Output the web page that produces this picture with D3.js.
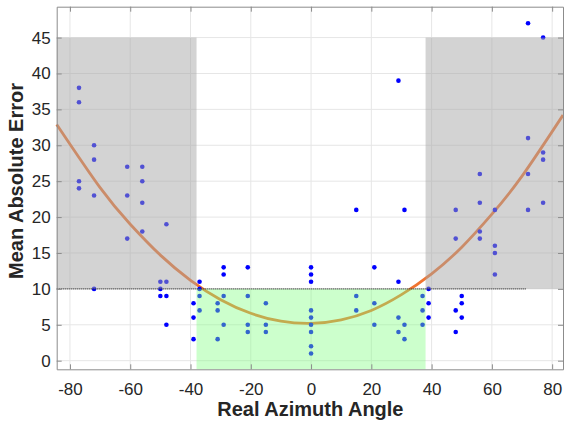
<!DOCTYPE html>
<html>
<head>
<meta charset="utf-8">
<script src="https://cdn.jsdelivr.net/npm/d3@7"></script>
<style>
  html, body { margin: 0; padding: 0; background: #fff; }
  svg { display: block; font-family: Arial, "Liberation Sans", sans-serif; }
</style>
</head>
<body>
<div id="chart"></div>
<script>
// ---------- data ----------
const angles = [-77, -72, -61, -56, -50, -48, -39, -37, -31, -29, -21, -15, 0, 15, 21, 29, 31, 37, 39, 48, 50, 56, 61, 72, 77];
const errorsByAngle = [
  [38, 36, 25, 24],
  [30, 28, 23, 10],
  [27, 23, 17],
  [27, 25, 22, 18],
  [11, 10, 9],
  [19, 11, 9, 5],
  [8, 6, 3],
  [11, 10, 9, 7],
  [8, 7, 3],
  [13, 12, 9, 5],
  [13, 9, 5, 4],
  [8, 5, 4],
  [13, 12, 11, 7, 6, 5, 4, 2, 1],
  [21, 9, 7],
  [13, 8, 5],
  [39, 11, 6, 4],
  [21, 5, 3],
  [9, 7, 5],
  [10, 8, 6],
  [21, 17, 7, 4],
  [9, 8, 6],
  [26, 22, 18, 17],
  [21, 16, 15, 12],
  [47, 31, 26, 21],
  [45, 29, 28, 22]
];

// fitted curve
const fitX = [-84.4, -70, -60, -50, -40, -30, -20, -10, 0, 10, 20, 30, 40, 50, 60, 70, 83.6];
const fitY = [32.9, 24.1, 19.0, 14.7, 11.2, 8.5, 6.6, 5.5, 5.2, 5.7, 7.0, 9.2, 12.1, 15.8, 20.4, 25.7, 34.2];

const xTicks = [-80, -60, -40, -20, 0, 20, 40, 60, 80];
const yTicks = [0, 5, 10, 15, 20, 25, 30, 35, 40, 45];

const threshold = 10;     // dotted line / region split
const bandLimit = 38;     // green zone half-width
const grayTop = 45;
const dottedEnd = 71.5;

// ---------- layout ----------
const width = 564, height = 421;
const plot = { left: 56.7, right: 563, top: 6.7, bottom: 369.3 };

const svg = d3.select("#chart").append("svg")
  .attr("width", width)
  .attr("height", height);

const x = d3.scaleLinear().domain([-84.4, 83.6]).range([plot.left, plot.right]);
const y = d3.scaleLinear().domain([-1.2, 49.3]).range([plot.bottom, plot.top]);

// grid
const grid = svg.append("g").attr("stroke", "#e6e6e6").attr("stroke-width", 1);
grid.selectAll(".gx").data(xTicks).join("line")
  .attr("x1", d => x(d)).attr("x2", d => x(d))
  .attr("y1", plot.top).attr("y2", plot.bottom);
grid.selectAll(".gy").data(yTicks).join("line")
  .attr("x1", plot.left).attr("x2", plot.right)
  .attr("y1", d => y(d)).attr("y2", d => y(d));

// fitted curve
const fitPts = fitX.map((v, i) => [v, fitY[i]]);
svg.append("path")
  .datum(fitPts)
  .attr("fill", "none")
  .attr("stroke", "#f07430")
  .attr("stroke-width", 2.8)
  .attr("d", d3.line().x(d => x(d[0])).y(d => y(d[1])).curve(d3.curveNatural));

// points
const points = [];
angles.forEach((a, i) => errorsByAngle[i].forEach(e => points.push({ a, e })));
svg.append("g").selectAll("circle").data(points).join("circle")
  .attr("cx", d => x(d.a))
  .attr("cy", d => y(d.e))
  .attr("r", 2.3)
  .attr("fill", "#0000ff");

// shaded regions (drawn over the marks, semi-transparent)
const [x0, x1] = x.domain();
const [y0] = y.domain();
svg.append("rect")
  .attr("x", x(x0)).attr("width", x(-bandLimit) - x(x0))
  .attr("y", y(grayTop)).attr("height", y(threshold) - y(grayTop))
  .attr("fill", "#a5a5a5").attr("fill-opacity", 0.49);
svg.append("rect")
  .attr("x", x(bandLimit)).attr("width", x(x1) - x(bandLimit))
  .attr("y", y(grayTop)).attr("height", y(threshold) - y(grayTop))
  .attr("fill", "#a5a5a5").attr("fill-opacity", 0.49);
svg.append("rect")
  .attr("x", x(-bandLimit)).attr("width", x(bandLimit) - x(-bandLimit))
  .attr("y", y(threshold)).attr("height", y(y0) - y(threshold))
  .attr("fill", "#80ff80").attr("fill-opacity", 0.4);

// dotted threshold line
svg.append("line")
  .attr("x1", x(x0)).attr("x2", x(dottedEnd))
  .attr("y1", y(threshold)).attr("y2", y(threshold))
  .attr("stroke", "#333")
  .attr("stroke-width", 1.3)
  .attr("stroke-dasharray", "1,1");

// ---------- axes ----------
const axisColor = "#8c8c8c";
const styleAxis = g => {
  g.select(".domain").attr("stroke", axisColor);
  g.selectAll(".tick line").attr("stroke", axisColor);
  g.selectAll(".tick text")
    .attr("fill", "#262626")
    .style("font-size", "17px")
    .style("font-family", "Arial, 'Liberation Sans', sans-serif");
};

svg.append("g")
  .attr("transform", `translate(0,${plot.bottom})`)
  .call(d3.axisBottom(x).tickValues(xTicks).tickSize(-5).tickPadding(13.5).tickSizeOuter(0)
    .tickFormat(d => String(d)))
  .call(styleAxis);

svg.append("g")
  .attr("transform", `translate(0,${plot.top})`)
  .call(d3.axisTop(x).tickValues(xTicks).tickSize(-5).tickSizeOuter(0).tickFormat(""))
  .call(styleAxis);

svg.append("g")
  .attr("transform", `translate(${plot.left},0)`)
  .call(d3.axisLeft(y).tickValues(yTicks).tickSize(-5).tickPadding(6).tickSizeOuter(0))
  .call(styleAxis);

svg.append("g")
  .attr("transform", `translate(${plot.right},0)`)
  .call(d3.axisRight(y).tickValues(yTicks).tickSize(-5).tickSizeOuter(0).tickFormat(""))
  .call(styleAxis);

// axis titles
svg.append("text")
  .attr("x", (plot.left + plot.right) / 2 + 0.5)
  .attr("y", 416)
  .attr("text-anchor", "middle")
  .attr("fill", "#262626")
  .style("font-size", "20px")
  .style("font-weight", "bold")
  .text("Real Azimuth Angle");

svg.append("text")
  .attr("transform", "translate(23,181) rotate(-90)")
  .attr("text-anchor", "middle")
  .attr("fill", "#262626")
  .style("font-size", "20px")
  .style("font-weight", "bold")
  .text("Mean Absolute Error");
</script>
</body>
</html>
